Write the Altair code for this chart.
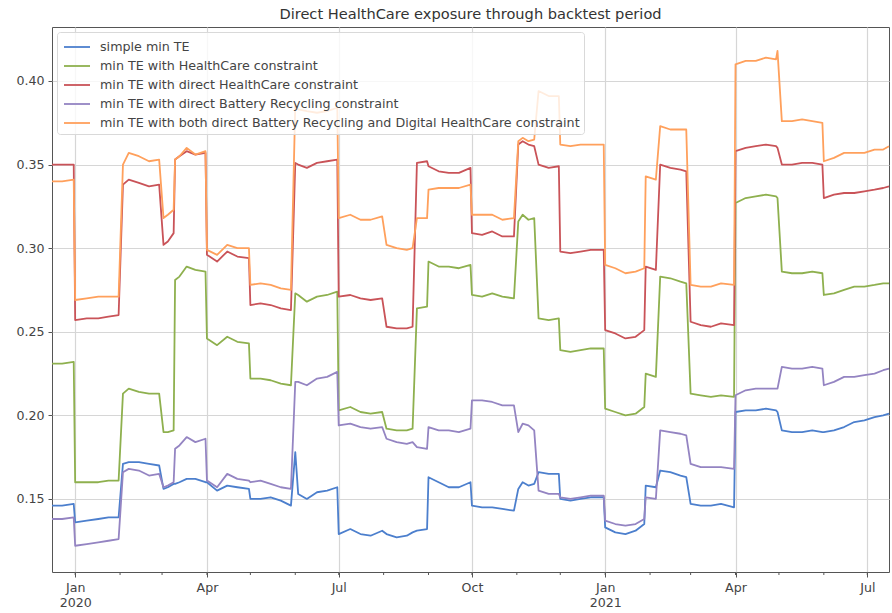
import altair as alt
import pandas as pd

# ---------------- data ----------------
dates = [
    "2019-12-16", "2019-12-23", "2019-12-31",
    "2020-01-01", "2020-01-09", "2020-01-17", "2020-01-24", "2020-01-31",
    "2020-02-03", "2020-02-07", "2020-02-14", "2020-02-21", "2020-02-28",
    "2020-03-02", "2020-03-05", "2020-03-09",
    "2020-03-10", "2020-03-13", "2020-03-18", "2020-03-24", "2020-03-31",
    "2020-04-01", "2020-04-08", "2020-04-15", "2020-04-22", "2020-04-30",
    "2020-05-01", "2020-05-08", "2020-05-15", "2020-05-22", "2020-05-29",
    "2020-06-01", "2020-06-03", "2020-06-09", "2020-06-16", "2020-06-23", "2020-06-30",
    "2020-07-01", "2020-07-09", "2020-07-16", "2020-07-23", "2020-07-31",
    "2020-08-03", "2020-08-10", "2020-08-17", "2020-08-21",
    "2020-08-24", "2020-08-31",
    "2020-09-01", "2020-09-08", "2020-09-15", "2020-09-22", "2020-09-30",
    "2020-10-01", "2020-10-08", "2020-10-15", "2020-10-22", "2020-10-30",
    "2020-11-02", "2020-11-05", "2020-11-09", "2020-11-13",
    "2020-11-16", "2020-11-23", "2020-11-30",
    "2020-12-01", "2020-12-08", "2020-12-15", "2020-12-22", "2020-12-31",
    "2021-01-01", "2021-01-08", "2021-01-15", "2021-01-22", "2021-01-28",
    "2021-01-29", "2021-02-05",
    "2021-02-08", "2021-02-15", "2021-02-22", "2021-02-26",
    "2021-03-01", "2021-03-08", "2021-03-15", "2021-03-22", "2021-03-31",
    "2021-04-01", "2021-04-08", "2021-04-15", "2021-04-22", "2021-04-29", "2021-04-30",
    "2021-05-03", "2021-05-10", "2021-05-17", "2021-05-24", "2021-05-31",
    "2021-06-01", "2021-06-08", "2021-06-15", "2021-06-22", "2021-06-29", "2021-07-06", "2021-07-12", "2021-07-16",
]

simple_min_te = [
    0.146, 0.146, 0.147,
    0.136, 0.137, 0.138, 0.139, 0.139,
    0.171, 0.172, 0.172, 0.171, 0.170,
    0.156, 0.157, 0.159,
    0.159, 0.160, 0.162, 0.162, 0.160,
    0.160, 0.155, 0.158, 0.157, 0.156,
    0.150, 0.150, 0.151, 0.149, 0.146,
    0.178, 0.153, 0.150, 0.154, 0.155, 0.157,
    0.129, 0.132, 0.129, 0.128, 0.131,
    0.129, 0.127, 0.128, 0.130,
    0.131, 0.132,
    0.163, 0.160, 0.157, 0.157, 0.160,
    0.146, 0.145, 0.145, 0.144, 0.143,
    0.156, 0.160, 0.158, 0.159,
    0.166, 0.165, 0.165,
    0.150, 0.149, 0.150, 0.151, 0.151,
    0.133, 0.130, 0.129, 0.131, 0.135,
    0.158, 0.157,
    0.167, 0.166, 0.164, 0.163,
    0.147, 0.146, 0.146, 0.147, 0.145,
    0.202, 0.203, 0.203, 0.204, 0.203, 0.202,
    0.191, 0.190, 0.190, 0.191, 0.190,
    0.190, 0.191, 0.193, 0.196, 0.197, 0.199, 0.200, 0.201,
]

healthcare_constraint = [
    0.231, 0.231, 0.232,
    0.160, 0.160, 0.160, 0.161, 0.161,
    0.213, 0.216, 0.214, 0.213, 0.213,
    0.190, 0.190, 0.191,
    0.281, 0.283, 0.289, 0.287, 0.286,
    0.246, 0.242, 0.247, 0.244, 0.243,
    0.222, 0.222, 0.221, 0.219, 0.218,
    0.273, 0.272, 0.268, 0.271, 0.272, 0.274,
    0.203, 0.205, 0.202, 0.201, 0.202,
    0.192, 0.191, 0.191, 0.192,
    0.264, 0.265,
    0.292, 0.289, 0.289, 0.288, 0.290,
    0.272, 0.271, 0.273, 0.271, 0.270,
    0.316, 0.320, 0.317, 0.318,
    0.258, 0.257, 0.258,
    0.239, 0.238, 0.239, 0.240, 0.240,
    0.204, 0.202, 0.200, 0.201, 0.205,
    0.225, 0.223,
    0.283, 0.282, 0.280, 0.279,
    0.213, 0.212, 0.211, 0.212, 0.211,
    0.327, 0.330, 0.331, 0.332, 0.331, 0.330,
    0.286, 0.285, 0.285, 0.286, 0.285,
    0.272, 0.273, 0.275, 0.277, 0.277, 0.278, 0.279, 0.279,
]

direct_healthcare_constraint = [
    0.350, 0.350, 0.350,
    0.257, 0.258, 0.258, 0.259, 0.260,
    0.338, 0.341, 0.339, 0.337, 0.338,
    0.302, 0.304, 0.309,
    0.353, 0.355, 0.358, 0.356, 0.357,
    0.296, 0.292, 0.298, 0.295, 0.294,
    0.266, 0.267, 0.266, 0.264, 0.263,
    0.351, 0.350, 0.348, 0.351, 0.352, 0.353,
    0.271, 0.272, 0.270, 0.269, 0.270,
    0.253, 0.252, 0.252, 0.253,
    0.351, 0.352,
    0.349, 0.346, 0.345, 0.345, 0.348,
    0.309, 0.308, 0.310, 0.307, 0.307,
    0.362, 0.364, 0.362, 0.361,
    0.350, 0.348, 0.349,
    0.298, 0.297, 0.298, 0.299, 0.299,
    0.251, 0.249, 0.246, 0.247, 0.251,
    0.289, 0.287,
    0.350, 0.348, 0.347, 0.346,
    0.256, 0.254, 0.253, 0.255, 0.254,
    0.358, 0.360, 0.361, 0.362, 0.361, 0.360,
    0.350, 0.350, 0.351, 0.351, 0.350,
    0.330, 0.332, 0.333, 0.333, 0.334, 0.335, 0.336, 0.337,
]

direct_battery_constraint = [
    0.138, 0.138, 0.139,
    0.122, 0.123, 0.124, 0.125, 0.126,
    0.166, 0.168, 0.167, 0.164, 0.165,
    0.157, 0.158, 0.160,
    0.180, 0.182, 0.187, 0.184, 0.186,
    0.161, 0.157, 0.165, 0.162, 0.161,
    0.160, 0.161, 0.159, 0.157, 0.156,
    0.220, 0.220, 0.218, 0.222, 0.223, 0.226,
    0.194, 0.195, 0.193, 0.192, 0.193,
    0.186, 0.184, 0.183, 0.184,
    0.181, 0.180,
    0.193, 0.191, 0.191, 0.190, 0.192,
    0.209, 0.209, 0.208, 0.206, 0.206,
    0.190, 0.195, 0.194, 0.191,
    0.155, 0.153, 0.153,
    0.151, 0.150, 0.151, 0.152, 0.152,
    0.137, 0.135, 0.134, 0.135, 0.138,
    0.151, 0.150,
    0.191, 0.190, 0.189, 0.188,
    0.171, 0.169, 0.169, 0.169, 0.168,
    0.212, 0.215, 0.216, 0.216, 0.216, 0.216,
    0.229, 0.228, 0.228, 0.229, 0.228,
    0.218, 0.220, 0.223, 0.223, 0.224, 0.225, 0.227, 0.228,
]

both_constraint = [
    0.340, 0.340, 0.341,
    0.269, 0.270, 0.271, 0.271, 0.271,
    0.350, 0.357, 0.355, 0.352, 0.353,
    0.318, 0.320, 0.323,
    0.353, 0.355, 0.360, 0.356, 0.358,
    0.299, 0.296, 0.302, 0.300, 0.300,
    0.278, 0.279, 0.278, 0.276, 0.275,
    0.386, 0.383, 0.382, 0.381, 0.382, 0.384,
    0.318, 0.320, 0.317, 0.317, 0.319,
    0.302, 0.300, 0.299, 0.300,
    0.318, 0.318,
    0.335, 0.336, 0.336, 0.336, 0.338,
    0.320, 0.320, 0.320, 0.317, 0.318,
    0.364, 0.366, 0.364, 0.365,
    0.394, 0.391, 0.391,
    0.362, 0.361, 0.362, 0.362, 0.362,
    0.290, 0.288, 0.285, 0.286, 0.288,
    0.343, 0.341,
    0.373, 0.371, 0.371, 0.371,
    0.278, 0.277, 0.277, 0.279, 0.278,
    0.410, 0.412, 0.412, 0.414, 0.413, 0.418,
    0.376, 0.376, 0.377, 0.376, 0.375,
    0.352, 0.354, 0.357, 0.357, 0.357, 0.359, 0.359, 0.361,
]

series_names = [
    "simple min TE",
    "min TE with HealthCare constraint",
    "min TE with direct HealthCare constraint",
    "min TE with direct Battery Recycling constraint",
    "min TE with both direct Battery Recycling and Digital HealthCare constraint",
]
series_colors = ["#4c7fcd", "#8eb04e", "#c95358", "#9484c2", "#ffa05c"]

quarter_ticks = [(2020, 1), (2020, 4), (2020, 7), (2020, 10), (2021, 1), (2021, 4), (2021, 7)]
minor_tick_dates = [
    "2020-01-01", "2020-02-01", "2020-03-01", "2020-04-01", "2020-05-01", "2020-06-01",
    "2020-07-01", "2020-08-01", "2020-09-01", "2020-10-01", "2020-11-01", "2020-12-01",
    "2021-01-01", "2021-02-01", "2021-03-01", "2021-04-01", "2021-05-01", "2021-06-01",
    "2021-07-01",
]
y_ticks = [0.15, 0.20, 0.25, 0.30, 0.35, 0.40]

# ---------------- table ----------------
rows = []
for name, vals in zip(series_names, [simple_min_te, healthcare_constraint,
                                     direct_healthcare_constraint,
                                     direct_battery_constraint, both_constraint]):
    assert len(vals) == len(dates), (name, len(vals), len(dates))
    for d, v in zip(dates, vals):
        rows.append({"date": d, "series": name, "value": v})
df = pd.DataFrame(rows)
minor_df = pd.DataFrame({"date": minor_tick_dates})

W, H = 837, 545
FONT = "DejaVu Sans"

x_scale = alt.Scale(
    type="utc",
    domain=[alt.DateTime(year=2019, month=12, date=16, utc=True),
            alt.DateTime(year=2021, month=7, date=16, utc=True)],
)
x_axis = alt.Axis(
    values=[alt.DateTime(year=y, month=m, date=1, utc=True) for y, m in quarter_ticks],
    labelExpr="utcFormat(datum.value, '%m') == '01' ? [utcFormat(datum.value, '%b'), utcFormat(datum.value, '%Y')] : utcFormat(datum.value, '%b')",
    title=None, grid=True, tickSize=5, labelPadding=4, labelLineHeight=15,
    labelFlush=False, labelOverlap=False,
)
y_axis = alt.Axis(values=y_ticks, format=".2f", title=None, grid=True,
                  tickSize=4, labelPadding=4)

lines = alt.Chart(df).mark_line(strokeWidth=1.8, strokeJoin="round").encode(
    x=alt.X("date:T", scale=x_scale, axis=x_axis),
    y=alt.Y("value:Q", scale=alt.Scale(domain=[0.1063, 0.4323], nice=False, zero=False),
            axis=y_axis),
    color=alt.Color(
        "series:N",
        scale=alt.Scale(domain=series_names, range=series_colors),
        sort=series_names,
        legend=alt.Legend(
            title=None, orient="top-left", offset=5,
            symbolType="M-1.3,0H1.3", symbolSize=400, symbolStrokeWidth=1.8,
            symbolOffset=5,
            labelFontSize=12.7, labelFont=FONT, labelColor="#444", labelLimit=700,
            fillColor="rgba(255,255,255,0.8)", strokeColor="#d9d9d9",
            cornerRadius=3, padding=4, rowPadding=1, labelOffset=12,
        ),
    ),
)

minor_ticks = alt.Chart(minor_df).mark_rule(color="#555", strokeWidth=1).encode(
    x=alt.X("date:T", scale=x_scale, axis=x_axis),
    y=alt.value(H),
    y2=alt.value(H + 3),
)

chart = alt.layer(lines, minor_ticks).properties(
    width=W, height=H,
    autosize=alt.AutoSizeParams(type="none"),
    padding={"left": 52, "top": 27, "right": 3, "bottom": 41},
    title=alt.Title("Direct HealthCare exposure through backtest period",
                    fontSize=14.6, font=FONT, fontWeight="normal", color="#333",
                    offset=5, anchor="middle"),
).configure_axis(
    domain=False, gridColor="#d6d6d6", gridWidth=1.2, tickColor="#555", tickWidth=1,
    labelColor="#444", labelFont=FONT, labelFontSize=12.6,
).configure_view(
    stroke="#555", strokeWidth=1,
)

chart.save("out.html", embed_options={"renderer": "svg", "actions": False})
